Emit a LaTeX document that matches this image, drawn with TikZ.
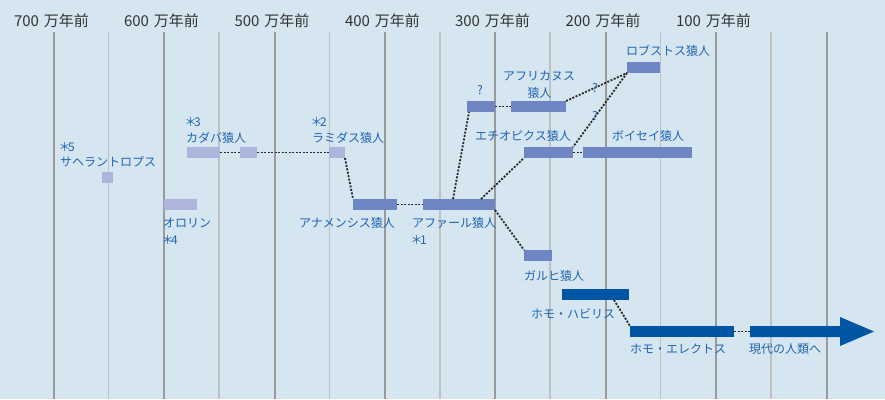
\documentclass[tikz,border=0pt]{standalone}
\usepackage{fontspec}
\newfontfamily\jp{Noto Sans CJK JP}
\definecolor{bg}{HTML}{D5E6F0}
\definecolor{lightbar}{HTML}{ADB5DC}
\definecolor{midbar}{HTML}{6F86C4}
\definecolor{darkbar}{HTML}{0055A5}
\definecolor{lbl}{HTML}{1F64B4}
\definecolor{yr}{HTML}{333333}
\definecolor{major}{HTML}{9A9A9A}
\definecolor{minor}{HTML}{C0C0C0}
\definecolor{dots}{HTML}{2A2A2A}
\newcommand{\bigast}{\hspace{-2.5pt}＊\hspace{-2.5pt}}
\newcommand{\yrlabel}[1]{#1\hspace{5pt}万年前}
\tikzset{
  barbox/.style={inner sep=0pt, outer sep=0pt, minimum height=11pt, draw=none},
  lt/.style={barbox, fill=lightbar},
  md/.style={barbox, fill=midbar},
  dk/.style={barbox, fill=darkbar},
  lab/.style={font=\jp\fontsize{12}{14}\selectfont, text=lbl, inner sep=0pt, anchor=west},
  year/.style={font=\jp\fontsize{15}{17}\selectfont, text=yr, inner sep=0pt},
  link/.style={draw=dots, line width=1.8pt, dash pattern=on 2pt off 1.5pt},
  majorline/.style={draw=major, line width=2pt},
  minorline/.style={draw=minor, line width=1.5pt}
}
\begin{document}
\begin{tikzpicture}[x=1pt,y=-1pt]
\fill[bg] (0,0) rectangle (885,399);
\useasboundingbox (0,0) rectangle (885,399);
% grid
\foreach \x in {53.5,164,274.5,385,495,605.5,716,826.5} \draw[majorline] (\x,32) -- (\x,399);
\foreach \x in {108.7,219.2,329.7,440,550.2,660.7,771.2} \draw[minorline] (\x,32) -- (\x,399);
% years
\node[year] (y700) at (51.5,20.5) {\yrlabel{700}};
\node[year] (y600) at (161.5,20.5) {\yrlabel{600}};
\node[year] (y500) at (272,20.5) {\yrlabel{500}};
\node[year] (y400) at (382.5,20.5) {\yrlabel{400}};
\node[year] (y300) at (492.5,20.5) {\yrlabel{300}};
\node[year] (y200) at (603,20.5) {\yrlabel{200}};
\node[year] (y100) at (713.5,20.5) {\yrlabel{100}};
% bars
\node[lt, minimum width=11pt] (sah) at (107.5,177.5) {};
\node[lt, minimum width=33pt] (ori) at (180.5,204.5) {};
\node[lt, minimum width=33pt] (kad1) at (203.5,152.5) {};
\node[lt, minimum width=17pt] (kad2) at (248.5,152.5) {};
\node[lt, minimum width=16pt] (ram) at (337,152.5) {};
\node[md, minimum width=44pt] (ana) at (375,204.5) {};
\node[md, minimum width=72pt] (afa) at (459,204.5) {};
\node[md, minimum width=28pt] (q) at (481,106.5) {};
\node[md, minimum width=55pt] (afr) at (538.5,106.5) {};
\node[md, minimum width=33pt] (rob) at (643.5,67.5) {};
\node[md, minimum width=49pt] (aet) at (548.5,152.5) {};
\node[md, minimum width=109pt] (boi) at (637.5,152.5) {};
\node[md, minimum width=28pt] (gar) at (538,255.5) {};
\node[dk, minimum width=67pt] (hab) at (595.5,294.5) {};
\node[dk, minimum width=104pt] (ere) at (682,331.5) {};
\coordinate (mod) at (750,331.5);
\fill[darkbar] (750,326) -- (840,326) -- (840,317) -- (874,331.5) -- (840,346) -- (840,337) -- (750,337) -- cycle;
% connectors
\draw[link] (kad1.east) -- (kad2.west);
\draw[link] (kad2.east) -- (ram.west);
\draw[link] (ram.south east) -- (ana.north west);
\draw[link] (ana.east) -- (afa.west);
\draw[link] ([xshift=30pt]afa.north west) -- ([xshift=2pt]q.south west);
\draw[link] (q.east) -- (afr.west);
\draw[link] (afr.north east) -- (rob.south west);
\draw[link] (rob.south west) -- (aet.north east);
\draw[link] ([xshift=58pt]afa.north west) -- (aet.south west);
\draw[link] (afa.south east) -- (gar.north west);
\draw[link] (aet.east) -- (boi.west);
\draw[link] ([xshift=-15pt]hab.south east) -- (ere.north west);
\draw[link] (ere.east) -- (mod);
% labels
\node[lab] (l5a) at (61,146.5) {\bigast5};
\node[lab] (l5b) at (60,162) {サヘラントロプス};
\node[lab] (l3a) at (187,122) {\bigast3};
\node[lab] (l3b) at (186,137.5) {カダバ猿人};
\node[lab] (l2a) at (313,122) {\bigast2};
\node[lab] (l2b) at (312,137.5) {ラミダス猿人};
\node[lab] (lori) at (163,223) {オロリン};
\node[lab] (l4) at (164,239.5) {\bigast4};
\node[lab] (lana) at (299,223) {アナメンシス猿人};
\node[lab] (lafa) at (412,223) {アファール猿人};
\node[lab] (l1) at (413,239.5) {\bigast1};
\node[lab, anchor=center] (lq1) at (480,90) {?};
\node[lab, anchor=center] (lafr1) at (539,76) {アフリカヌス};
\node[lab, anchor=center] (lafr2) at (539.5,93) {猿人};
\node[lab, anchor=center] (lq2) at (595,88) {?};
\node[lab, anchor=center] (lq3) at (595,116) {?};
\node[lab] (lrob) at (626,51) {ロブストス猿人};
\node[lab] (laet) at (475,136) {エチオピクス猿人};
\node[lab] (lboi) at (612,136) {ボイセイ猿人};
\node[lab] (lgar) at (524,276) {ガルヒ猿人};
\node[lab] (lhab) at (531,314) {ホモ・ハビリス};
\node[lab] (lere) at (630,349) {ホモ・エレクトス};
\node[lab] (lmod) at (749,349) {現代の人類へ};
\end{tikzpicture}
\end{document}
